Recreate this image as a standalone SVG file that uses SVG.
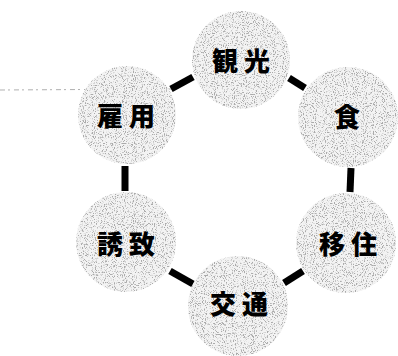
<svg xmlns="http://www.w3.org/2000/svg" width="398" height="356" viewBox="0 0 398 356">
<style>
.bg{fill:#ffffff}
.node circle{fill:#d9d9d9;filter:url(#stipple)}
.node text{font-family:"Noto Sans CJK JP","Noto Sans CJK SC",sans-serif;font-weight:900;font-size:26px;fill:#000;text-anchor:middle;letter-spacing:6px}
.edge{stroke:#000;stroke-width:7;stroke-linecap:butt;fill:none}
</style>
<defs>
<filter id="stipple" x="-5%" y="-5%" width="110%" height="110%">
<feTurbulence type="fractalNoise" baseFrequency="0.9" numOctaves="2" seed="3" result="n"/>
<feColorMatrix in="n" type="matrix" values="0 0 0 0 0.4  0 0 0 0 0.4  0 0 0 0 0.4  -6 0 0 0 2.85" result="dots"/>
<feComposite in="dots" in2="SourceGraphic" operator="in" result="d2"/>
<feFlood flood-color="#f3f3f3" result="f"/>
<feComposite in="f" in2="SourceGraphic" operator="in" result="base"/>
<feMerge><feMergeNode in="base"/><feMergeNode in="d2"/></feMerge>
</filter>
</defs>
<rect class="bg" width="398" height="356"/>
<line x1="0" y1="90" x2="172" y2="89" stroke="#b0b0b0" stroke-width="1" stroke-dasharray="5 3 2 4"/>
<g id="connectors">
<line class="edge" x1="171" y1="89" x2="193" y2="77"/>
<line class="edge" x1="289" y1="78" x2="305" y2="88"/>
<line class="edge" x1="125" y1="166" x2="125" y2="191"/>
<line class="edge" x1="351" y1="168" x2="350" y2="192"/>
<line class="edge" x1="170" y1="271" x2="193" y2="284"/>
<line class="edge" x1="284" y1="283" x2="303" y2="271"/>
</g>
<g id="node-kanko" class="node"><circle cx="241" cy="60" r="49"/><text x="244" y="71">観光</text></g>
<g id="node-shoku" class="node"><circle cx="348" cy="117" r="50"/><text x="350" y="127">食</text></g>
<g id="node-iju" class="node"><circle cx="346" cy="243" r="50"/><text x="351" y="254">移住</text></g>
<g id="node-kotsu" class="node"><circle cx="238" cy="306" r="50"/><text x="242" y="314">交通</text></g>
<g id="node-yuchi" class="node"><circle cx="126" cy="242" r="50"/><text x="129" y="254">誘致</text></g>
<g id="node-koyo" class="node"><circle cx="127" cy="115" r="49"/><text x="129" y="126">雇用</text></g>
</svg>
